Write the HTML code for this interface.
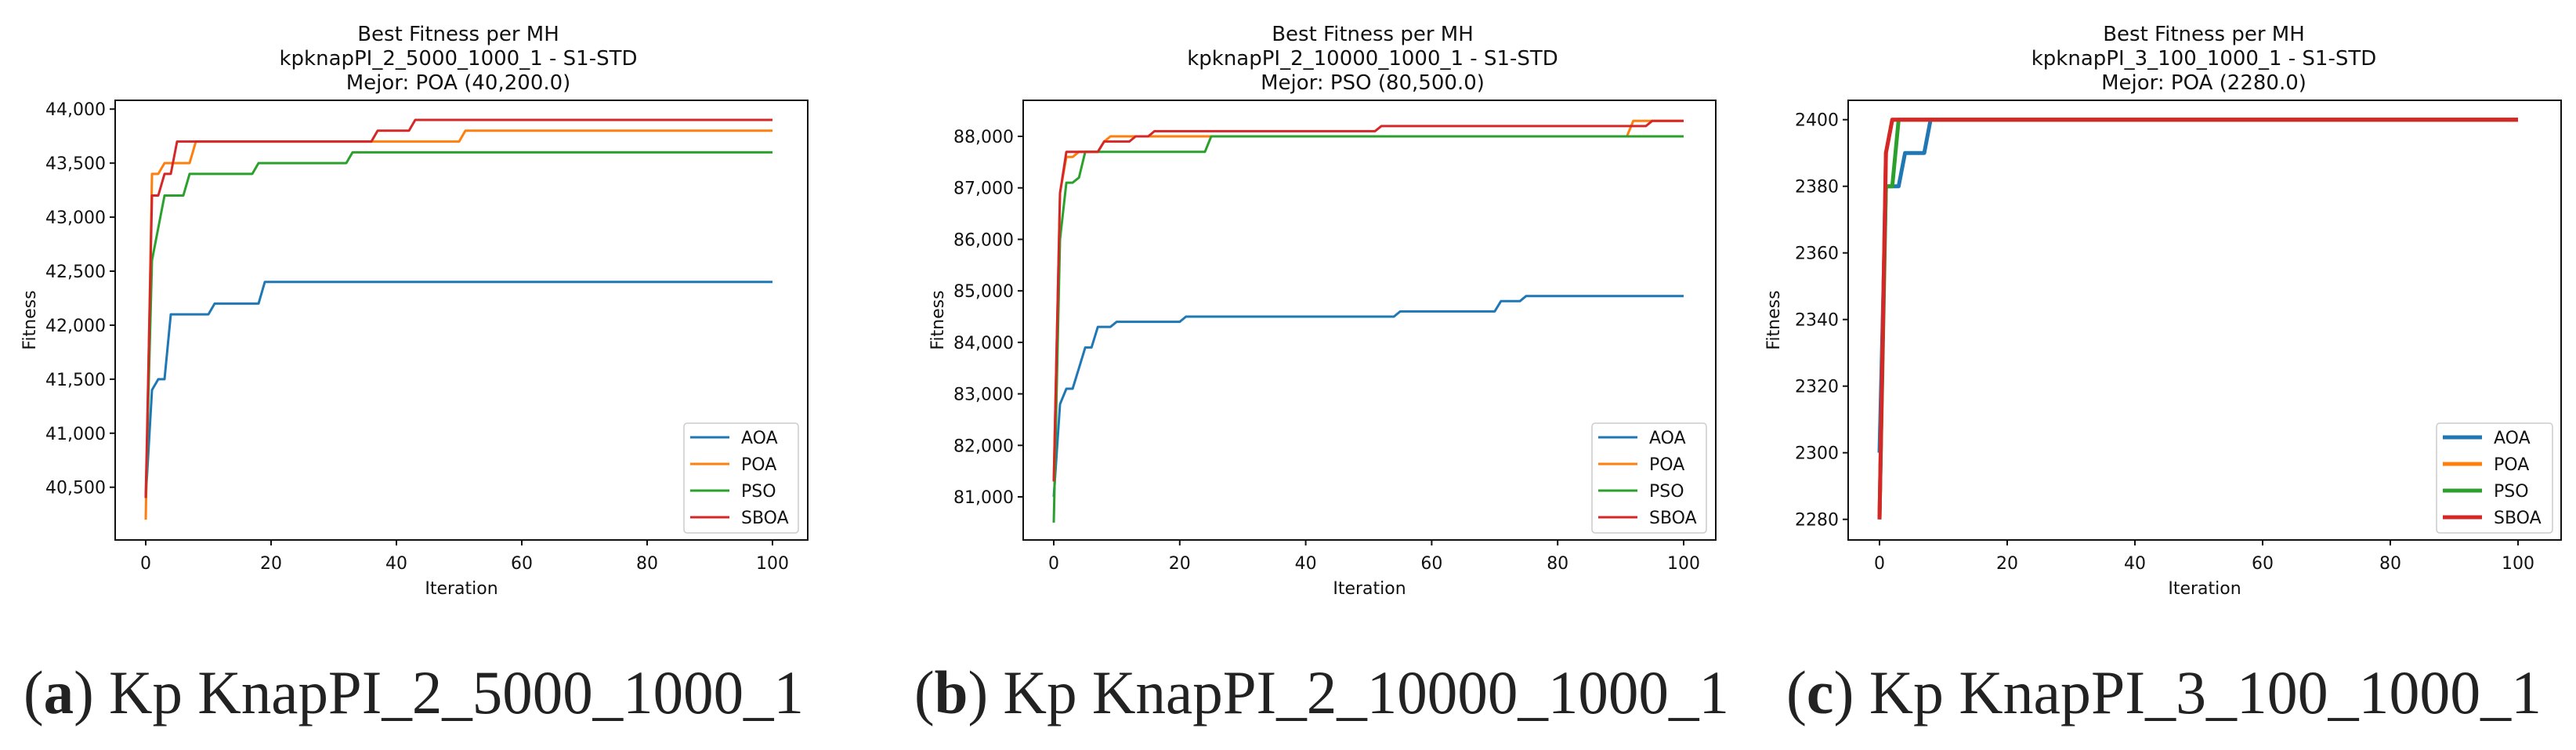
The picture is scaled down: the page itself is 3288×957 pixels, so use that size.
<!DOCTYPE html>
<html><head><meta charset="utf-8"><style>
html,body{margin:0;padding:0;background:#fff;}
svg{display:block;}
text{font-family:"DejaVu Sans","Liberation Sans",sans-serif;fill:#111;}
.cap{font-family:"Liberation Serif",serif;fill:#222;}
</style></head><body>
<svg id="fig" width="3288" height="957" viewBox="0 0 3288 957" xmlns="http://www.w3.org/2000/svg"></svg>
<script>
// ---- Chart (a) data ----
const aAOAx=[0,1,2,3,4,10,11,18,19,100];
const aAOAy=[40400,41400,41500,41500,42100,42100,42200,42200,42400,42400];
const aPOAx=[0,1,2,3,7,8,50,51,100];
const aPOAy=[40200,43400,43400,43500,43500,43700,43700,43800,43800];
const aPSOx=[0,1,2,3,6,7,17,18,32,33,100];
const aPSOy=[40400,42600,42900,43200,43200,43400,43400,43500,43500,43600,43600];
const aSBOAx=[0,1,2,3,4,5,36,37,42,43,100];
const aSBOAy=[40400,43200,43200,43400,43400,43700,43700,43800,43800,43900,43900];
const aTicks=[40500,41000,41500,42000,42500,43000,43500,44000];
const aTickLabels=["40,500","41,000","41,500","42,000","42,500","43,000","43,500","44,000"];
// ---- Chart (b) data ----
const bAOAx=[0,1,2,3,4,5,6,7,9,10,20,21,54,55,70,71,74,75,100];
const bAOAy=[81000,82800,83100,83100,83500,83900,83900,84300,84300,84400,84400,84500,84500,84600,84600,84800,84800,84900,84900];
const bPOAx=[0,1,2,3,4,7,8,9,91,92,100];
const bPOAy=[81300,86900,87600,87600,87700,87700,87900,88000,88000,88300,88300];
const bPSOx=[0,1,2,3,4,5,24,25,100];
const bPSOy=[80500,86000,87100,87100,87200,87700,87700,88000,88000];
const bSBOAx=[0,1,2,7,8,12,13,15,16,51,52,94,95,100];
const bSBOAy=[81300,86900,87700,87700,87900,87900,88000,88000,88100,88100,88200,88200,88300,88300];
const bTicks=[81000,82000,83000,84000,85000,86000,87000,88000];
const bTickLabels=["81,000","82,000","83,000","84,000","85,000","86,000","87,000","88,000"];
// ---- Chart (c) data ----
const cAOAx=[0,1,3,4,7,8,100];
const cAOAy=[2300,2380,2380,2390,2390,2400,2400];
const cPOAx=[0,1,2,100];
const cPOAy=[2280,2390,2400,2400];
const cPSOx=[0,1,2,3,100];
const cPSOy=[2280,2380,2380,2400,2400];
const cSBOAx=[0,1,2,100];
const cSBOAy=[2280,2390,2400,2400];
const cTicks=[2280,2300,2320,2340,2360,2380,2400];
const cTickLabels=["2280","2300","2320","2340","2360","2380","2400"];
const xTicks=[0,20,40,60,80,100];
const seriesNames=["AOA","POA","PSO","SBOA"];
const colors=["#1f77b4","#ff7f0e","#2ca02c","#d62728"];

const NS="http://www.w3.org/2000/svg";
const fig=document.getElementById('fig');
function mk(tag,attrs,parent,txt){const e=document.createElementNS(NS,tag);for(const k in attrs)e.setAttribute(k,attrs[k]);if(txt!==undefined)e.textContent=txt;(parent||fig).appendChild(e);return e;}

const charts=[
 {id:'a',L:147,R:1031,T:128,B:689,x0:186,x100:986,v0:40500,p0:621.7,v1:42500,p1:346,ticks:aTicks,labels:aTickLabels,
  series:[[aAOAx,aAOAy],[aPOAx,aPOAy],[aPSOx,aPSOy],[aSBOAx,aSBOAy]],lw:3,
  titles:["Best Fitness per MH","kpknapPI_2_5000_1000_1 - S1-STD","Mejor: POA (40,200.0)"],tc:585,fitX:37,
  leg:[873,540,146,140],cap:["a"," Kp KnapPI_2_5000_1000_1"],capX:30,capW:996},
 {id:'b',L:1306,R:2190,T:128,B:689,x0:1345,x100:2149,v0:81000,p0:634,v1:88000,p1:174,ticks:bTicks,labels:bTickLabels,
  series:[[bAOAx,bAOAy],[bPOAx,bPOAy],[bPSOx,bPSOy],[bSBOAx,bSBOAy]],lw:3,
  titles:["Best Fitness per MH","kpknapPI_2_10000_1000_1 - S1-STD","Mejor: PSO (80,500.0)"],tc:1752,fitX:1196,
  leg:[2032,540,146,140],cap:["b"," Kp KnapPI_2_10000_1000_1"],capX:1167,capW:1040},
 {id:'c',L:2359,R:3269,T:128,B:689,x0:2399,x100:3214,v0:2280,p0:662.7,v1:2400,p1:152.7,ticks:cTicks,labels:cTickLabels,
  series:[[cAOAx,cAOAy],[cPOAx,cPOAy],[cPSOx,cPSOy],[cSBOAx,cSBOAy]],lw:5,
  titles:["Best Fitness per MH","kpknapPI_3_100_1000_1 - S1-STD","Mejor: POA (2280.0)"],tc:2813,fitX:2263,
  leg:[3110,540,148,140],cap:["c"," Kp KnapPI_3_100_1000_1"],capX:2280,capW:964}
];

charts.forEach(c=>{
  const g=mk('g',{});
  
  
  const X=v=>c.x0+(c.x100-c.x0)*v/100;
  const Y=v=>c.p0+(c.p1-c.p0)*(v-c.v0)/(c.v1-c.v0);
  c.titles.forEach((t,i)=>{
    const e=mk('text',{x:c.tc,y:52+i*31,'text-anchor':'middle','font-size':26},g,t);
    
    
  });
  c.series.forEach((s,si)=>{
    const pts=s[0].map((xv,i)=>X(xv).toFixed(1)+','+Y(s[1][i]).toFixed(1)).join(' ');
    const pl=mk('polyline',{points:pts,fill:'none',stroke:colors[si],'stroke-width':c.lw,'stroke-linejoin':'round'},g);
    
    
  });
  const fr=mk('rect',{x:c.L,y:c.T,width:c.R-c.L,height:c.B-c.T,fill:'none',stroke:'#111','stroke-width':2},g);
  
  
  c.ticks.forEach((tv,i)=>{
    const y=Y(tv);
    mk('line',{x1:c.L-7,x2:c.L,y1:y,y2:y,stroke:'#111','stroke-width':2},g);
    const t=mk('text',{x:c.L-12,y:y+8,'text-anchor':'end','font-size':22},g,c.labels[i]);
    
    
  });
  xTicks.forEach(tv=>{
    const x=X(tv);
    mk('line',{x1:x,x2:x,y1:c.B,y2:c.B+7,stroke:'#111','stroke-width':2},g);
    const t=mk('text',{x:x,y:726,'text-anchor':'middle','font-size':22},g,String(tv));
    
    
  });
  const xl=mk('text',{x:(c.L+c.R)/2,y:758,'text-anchor':'middle','font-size':22},g,'Iteration');
  
  
  const yl=mk('text',{x:c.fitX,y:(c.T+c.B)/2,'text-anchor':'middle','font-size':22,transform:`rotate(-90 ${c.fitX} ${(c.T+c.B)/2}) translate(0 8)`},g,'Fitness');
  
  
  const [lx,ly,lw,lh]=c.leg;
  const lg=mk('g',{},g);
  
  
  mk('rect',{x:lx,y:ly,width:lw,height:lh,rx:4,fill:'#fff','fill-opacity':0.8,stroke:'#ccc','stroke-width':1.5},lg);
  seriesNames.forEach((n,i)=>{
    const yy=ly+18+i*34;
    const e=mk('g',{},lg);
    
    
    mk('line',{x1:lx+8,x2:lx+58,y1:yy,y2:yy,stroke:colors[i],'stroke-width':c.lw},e);
    mk('text',{x:lx+73,y:yy+8,'font-size':22},e,n);
  });
  const cap=mk('text',{x:c.capX,y:910,'font-size':78,class:'cap',textLength:c.capW,lengthAdjust:'spacingAndGlyphs'},fig);
  
  
  mk('tspan',{},cap,'(');
  mk('tspan',{'font-weight':'bold'},cap,c.cap[0]);
  mk('tspan',{},cap,')'+c.cap[1]);
});
</script>
</body></html>
